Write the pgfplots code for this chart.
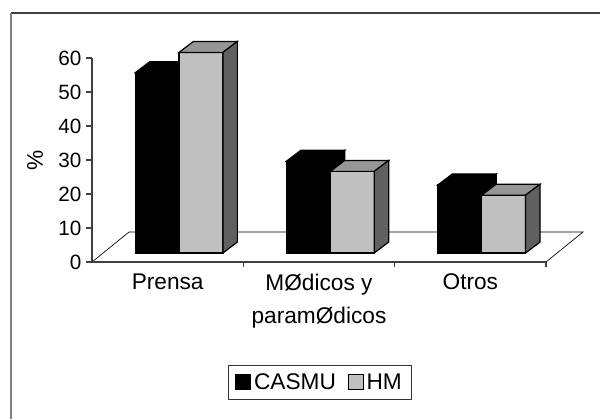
\documentclass[border=0pt]{standalone}
\usepackage{fontspec}
\setmainfont{Liberation Sans}
\usepackage{pgfplots}
\pgfplotsset{compat=1.18}

\definecolor{hmfront}{HTML}{C0C0C0}
\definecolor{hmtop}{HTML}{969696}
\definecolor{hmside}{HTML}{606060}
\definecolor{axisgray}{HTML}{404040}

% one 3-D bar: #1 left edge of front face, #2 value, #3 front, #4 top, #5 side colour
\newcommand{\bartd}[5]{%
  \pgfmathsetmacro{\xa}{#1}%
  \pgfmathsetmacro{\xb}{#1+0.29}%
  \pgfmathsetmacro{\xc}{#1+0.0958}%
  \pgfmathsetmacro{\xd}{#1+0.29+0.0958}%
  \pgfmathsetmacro{\ya}{2.65}%
  \pgfmathsetmacro{\yb}{2.65+#2}%
  \pgfmathsetmacro{\yc}{2.65+3.235}%
  \pgfmathsetmacro{\yd}{2.65+#2+3.235}%
  \edef\next{%
    \noexpand\addplot[forget plot, draw=black, line width=0.9pt, fill=#3]
      coordinates {(\xa,\ya) (\xb,\ya) (\xb,\yb) (\xa,\yb)} -- cycle;
    \noexpand\addplot[forget plot, draw=black, line width=0.9pt, fill=#4]
      coordinates {(\xa,\yb) (\xb,\yb) (\xd,\yd) (\xc,\yd)} -- cycle;
    \noexpand\addplot[forget plot, draw=black, line width=0.9pt, fill=#5]
      coordinates {(\xb,\ya) (\xd,\yc) (\xd,\yd) (\xb,\yb)} -- cycle;
  }\next
}

\begin{document}
\begin{tikzpicture}
\useasboundingbox (-69pt,-117.75pt) rectangle (381pt,196.5pt);
% chart frame (only top and left edges are inside the picture)
\draw[black!75, line width=1.3pt] (-60.75pt,186.75pt) -- (381pt,186.75pt);
\draw[black!50, line width=1.3pt] (-60.75pt,186.75pt) -- (-60.75pt,-117.75pt);

\begin{axis}[
  at={(0,0)}, anchor=south west,
  scale only axis,
  width=340.5pt, height=153pt,
  xmin=0, xmax=3, ymin=0, ymax=60,
  clip=false,
  axis on top,
  axis x line=bottom, axis y line=left,
  axis line style={-, axisgray, line width=1.1pt},
  tick align=outside,
  tick style={axisgray, line width=0.8pt},
  major tick length=4.5pt,
  minor tick length=3.75pt,
  ytick={0,10,...,60},
  xtick={0.5,1.5,2.5},
  xticklabels={Prensa, {MØdicos y\\paramØdicos}, Otros},
  major x tick style={draw=none},
  minor xtick={1,2,3},
  /pgf/number format/assume math mode=true,
  yticklabel style={font=\fontsize{15.5}{18}\selectfont},
  xticklabel style={font=\fontsize{17}{25}\selectfont, align=center, yshift=-1pt},
  ylabel={\%},
  ylabel style={font=\fontsize{17}{18}\selectfont, at={(axis description cs:-0.1256,0.5)}, anchor=center},
  legend columns=-1,
  legend style={at={(0.502,-0.59)}, anchor=center, draw=black!80, line width=0.75pt,
    font=\fontsize{17}{19}\selectfont, inner xsep=5pt, inner ysep=4pt,
    /tikz/every even column/.append style={column sep=7pt}},
  legend image code/.code={\draw[#1, line width=0.75pt] (0pt,-5.6pt) rectangle (11.25pt,5.6pt);},
]
% floor
\addplot[forget plot, draw=black, line width=0.5pt, fill=white]
  coordinates {(0,0) (3,0) (3.2445,8.82) (0.2445,8.82)} -- cycle;

% Prensa
\bartd{0.285}{53}{black}{black}{black}
\bartd{0.575}{59}{hmfront}{hmtop}{hmside}
% Medicos y paramedicos
\bartd{1.285}{27}{black}{black}{black}
\bartd{1.575}{24}{hmfront}{hmtop}{hmside}
% Otros
\bartd{2.285}{20}{black}{black}{black}
\bartd{2.575}{17}{hmfront}{hmtop}{hmside}

\addlegendimage{fill=black, draw=black}
\addlegendentry{CASMU}
\addlegendimage{fill=hmfront, draw=black}
\addlegendentry{HM}
\end{axis}
\end{tikzpicture}
\end{document}
